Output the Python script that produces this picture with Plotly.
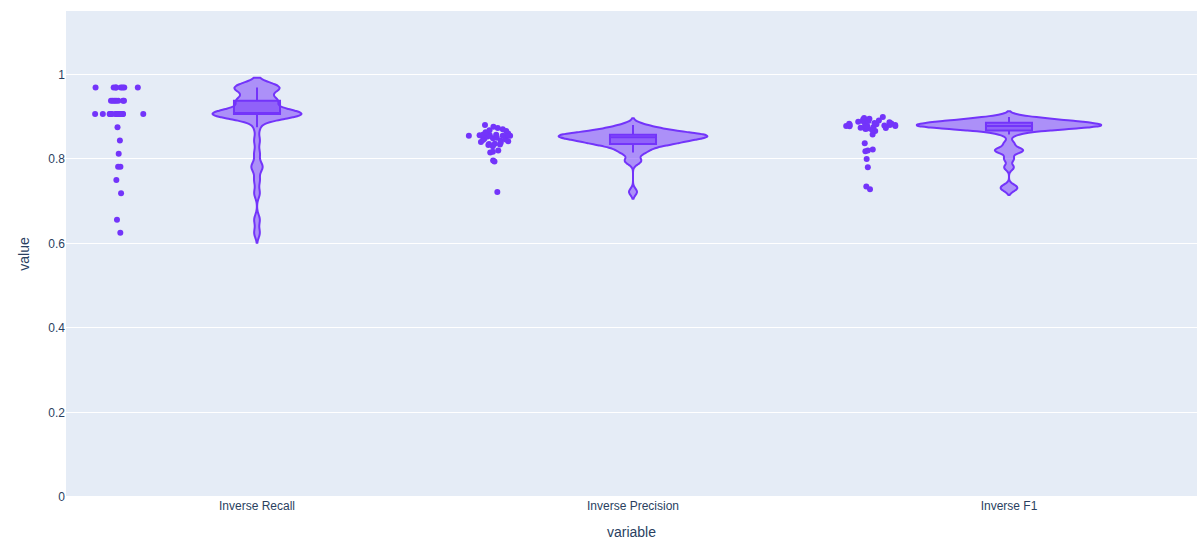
import pandas as pd
import plotly.express as px

# Per-item scores for each inverse metric
inverse_recall = (
    [0.625, 0.65625, 0.71875, 0.75, 0.78125, 0.78125, 0.8125, 0.84375, 0.875]
    + [0.90625] * 16
    + [0.9375] * 7
    + [0.96875] * 8
)
inverse_precision = [
    0.722, 0.794, 0.796, 0.815, 0.817, 0.820, 0.830, 0.833, 0.834, 0.835,
    0.836, 0.838, 0.840, 0.842, 0.843, 0.845, 0.846, 0.848, 0.849, 0.850,
    0.853, 0.854, 0.855, 0.855, 0.855, 0.855, 0.856, 0.856, 0.856, 0.857,
    0.857, 0.858, 0.860, 0.863, 0.866, 0.868, 0.870, 0.873, 0.876, 0.880,
]
inverse_f1 = [
    0.728, 0.735, 0.780, 0.800, 0.818, 0.820, 0.822, 0.837, 0.858, 0.866,
    0.869, 0.871, 0.872, 0.873, 0.874, 0.875, 0.876, 0.877, 0.877, 0.878,
    0.878, 0.879, 0.879, 0.880, 0.880, 0.881, 0.882, 0.883, 0.884, 0.885,
    0.886, 0.887, 0.888, 0.889, 0.890, 0.891, 0.893, 0.895, 0.897, 0.899,
]

wide = pd.DataFrame({
    "Inverse Recall": inverse_recall,
    "Inverse Precision": inverse_precision,
    "Inverse F1": inverse_f1,
})
df = wide.melt(var_name="variable", value_name="value")

fig = px.violin(
    df, x="variable", y="value", points="all", box=True,
    color_discrete_sequence=["#7334FA"],
)
fig.update_layout(
    width=1197, height=540,
    margin=dict(l=66, r=0, t=11, b=43),
    font=dict(family="Liberation Sans, Arial, sans-serif"),
)
fig.update_yaxes(range=[0, 1.15])
fig.write_html("out.html")
